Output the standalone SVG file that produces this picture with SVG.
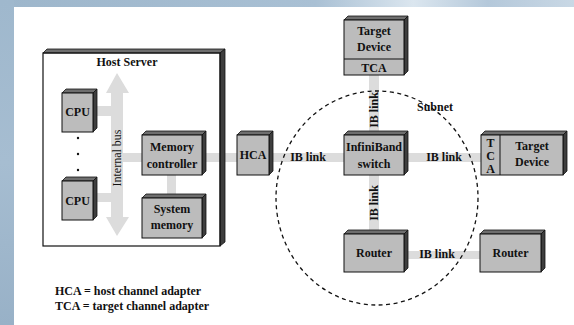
<svg xmlns="http://www.w3.org/2000/svg" width="574" height="325" viewBox="0 0 574 325">
<defs>
<linearGradient id="bgTop" x1="0" y1="0" x2="1" y2="0">
<stop offset="0" stop-color="#9db6cb"/>
<stop offset="0.55" stop-color="#a9c0d4"/>
<stop offset="0.72" stop-color="#dbe6ef"/>
<stop offset="0.85" stop-color="#b4c8da"/>
<stop offset="1" stop-color="#c9d8e5"/>
</linearGradient>
<linearGradient id="bgLeft" x1="0" y1="0" x2="0" y2="1">
<stop offset="0" stop-color="#9fb8cd"/>
<stop offset="0.5" stop-color="#a6bdd1"/>
<stop offset="1" stop-color="#98b1c7"/>
</linearGradient>
<style>
.face{fill:#bcbcbc;stroke:#111;stroke-width:1}
.top{fill:#6e6e6e;stroke:#111;stroke-width:0.8}
.side{fill:#3e3e3e;stroke:#111;stroke-width:0.8}
.link{fill:#dcdcdc}
.t{font-family:"Liberation Serif","Times New Roman",serif;font-size:12px;font-weight:bold;fill:#111;text-anchor:middle}
.tr{font-family:"Liberation Serif","Times New Roman",serif;font-size:12px;fill:#111;text-anchor:middle}
.lg{font-family:"Liberation Serif","Times New Roman",serif;font-size:12px;font-weight:bold;fill:#111}
</style>
</defs>
<rect x="0" y="0" width="574" height="325" fill="#ffffff"/>
<rect x="0" y="0" width="574" height="7" fill="url(#bgTop)"/>
<rect x="0" y="0" width="14" height="325" fill="url(#bgLeft)"/>

<g id="host-server-bg">
<rect x="43" y="53" width="177" height="193" fill="#ffffff"/>
</g>

<g id="connectors">
<polygon class="link" points="117,73 129,93 123,93 123,217 129,217 117,236 106,217 111,217 111,93 106,93"/>
<rect class="link" x="97" y="106" width="14" height="10"/>
<rect class="link" x="97" y="193" width="14" height="9"/>
<rect class="link" x="123" y="153" width="19" height="9"/>
<rect class="link" x="167" y="175" width="9" height="20"/>
<rect class="link" x="206" y="153" width="31" height="9"/>
<rect class="link" x="273" y="153" width="71" height="9"/>
<rect class="link" x="408" y="153" width="73" height="9"/>
<rect class="link" x="369" y="75" width="10" height="57"/>
<rect class="link" x="369" y="175" width="10" height="56"/>
<rect class="link" x="408" y="251" width="72" height="8"/>
<text class="tr" transform="translate(121,158) rotate(-90)">Internal bus</text>
<text class="t" x="308" y="161">IB link</text>
<text class="t" x="444" y="161">IB link</text>
<text class="t" x="437" y="258">IB link</text>
<text class="t" transform="translate(378,110) rotate(-90)">IB link</text>
<text class="t" transform="translate(378,203) rotate(-90)">IB link</text>
</g>

<g id="host-server">
<polygon class="top" points="43,53 47,49 225,49 220,53"/>
<polygon class="side" points="220,53 225,49 225,242 220,246"/>
<rect x="43" y="53" width="177" height="193" fill="none" stroke="#111" stroke-width="1.2"/>
<text class="t" x="127" y="66">Host Server</text>
<circle cx="78" cy="138" r="1.2" fill="#111"/>
<circle cx="78" cy="154" r="1.2" fill="#111"/>
<circle cx="78" cy="170" r="1.2" fill="#111"/>
</g>

<g id="cpu1">
<polygon class="top" points="62,93 66,89 97,89 93,93"/>
<polygon class="side" points="93,93 97,89 97,128 93,132"/>
<rect class="face" x="62" y="93" width="31" height="39"/>
<text class="t" x="77.5" y="116">CPU</text>
</g>

<g id="cpu2">
<polygon class="top" points="62,181 66,177 97,177 93,181"/>
<polygon class="side" points="93,181 97,177 97,216 93,220"/>
<rect class="face" x="62" y="181" width="31" height="39"/>
<text class="t" x="77.5" y="205">CPU</text>
</g>

<g id="memory-controller">
<polygon class="top" points="142,135 146,131 206,131 202,135"/>
<polygon class="side" points="202,135 206,131 206,171 202,175"/>
<rect class="face" x="142" y="135" width="60" height="40"/>
<text class="t" x="172" y="151">Memory</text>
<text class="t" x="172" y="168">controller</text>
</g>

<g id="system-memory">
<polygon class="top" points="142,198 146,194 206,194 202,198"/>
<polygon class="side" points="202,198 206,194 206,234 202,238"/>
<rect class="face" x="142" y="198" width="60" height="40"/>
<text class="t" x="172" y="213">System</text>
<text class="t" x="172" y="229">memory</text>
</g>

<g id="hca">
<polygon class="top" points="237,135 241,131 273,131 269,135"/>
<polygon class="side" points="269,135 273,131 273,171 269,175"/>
<rect class="face" x="237" y="135" width="32" height="40"/>
<text class="t" x="253" y="159">HCA</text>
</g>

<g id="switch">
<polygon class="top" points="344,135 348,131 408,131 404,135"/>
<polygon class="side" points="404,135 408,131 408,171 404,175"/>
<rect class="face" x="344" y="135" width="60" height="40"/>
<text class="t" x="374" y="151">InfiniBand</text>
<text class="t" x="374" y="168">switch</text>
</g>

<g id="target-device-top">
<polygon class="top" points="344,20 348,16 408,16 404,20"/>
<polygon class="side" points="404,20 408,16 408,71 404,75"/>
<rect class="face" x="344" y="20" width="60" height="55"/>
<line x1="344" y1="59" x2="404" y2="59" stroke="#111" stroke-width="1"/>
<text class="t" x="374" y="35">Target</text>
<text class="t" x="374" y="51">Device</text>
<text class="t" x="374" y="72">TCA</text>
</g>

<g id="target-device-right">
<polygon class="top" points="481,135 485,131 567,131 563,135"/>
<polygon class="side" points="563,135 567,131 567,171 563,175"/>
<rect class="face" x="481" y="135" width="82" height="40"/>
<line x1="500" y1="135" x2="500" y2="175" stroke="#111" stroke-width="1"/>
<text class="t" x="490.5" y="147">T</text>
<text class="t" x="490.5" y="160">C</text>
<text class="t" x="490.5" y="173">A</text>
<text class="t" x="532" y="150">Target</text>
<text class="t" x="532" y="166">Device</text>
</g>

<g id="router1">
<polygon class="top" points="344,234 348,230 408,230 404,234"/>
<polygon class="side" points="404,234 408,230 408,268 404,272"/>
<rect class="face" x="344" y="234" width="60" height="38"/>
<text class="t" x="374" y="257">Router</text>
</g>

<g id="router2">
<polygon class="top" points="480,234 484,230 545,230 541,234"/>
<polygon class="side" points="541,234 545,230 545,268 541,272"/>
<rect class="face" x="480" y="234" width="61" height="38"/>
<text class="t" x="510.5" y="257">Router</text>
</g>

<g id="subnet">
<ellipse cx="377" cy="198" rx="101" ry="107" fill="none" stroke="#111" stroke-width="1.3" stroke-dasharray="4 3.5"/>
<text class="t" x="435" y="111">Subnet</text>
</g>

<g id="legend">
<text class="lg" x="55" y="295">HCA = host channel adapter</text>
<text class="lg" x="55" y="310">TCA = target channel adapter</text>
</g>
</svg>
